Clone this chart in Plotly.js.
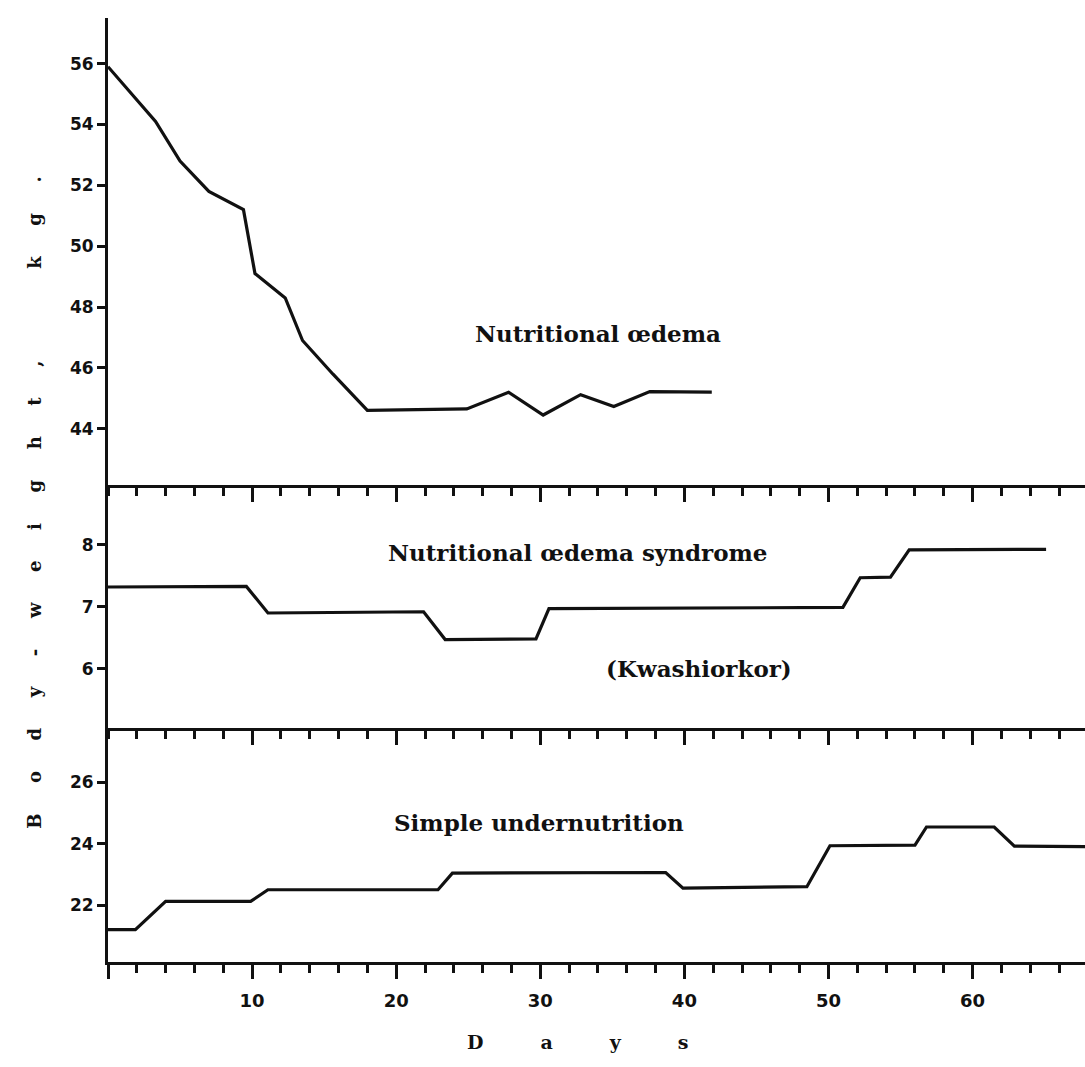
<!DOCTYPE html>
<html>
<head>
<meta charset="utf-8">
<script src="https://cdn.plot.ly/plotly-3.0.1.min.js"></script>
<style>html,body{margin:0;padding:0;background:#fff;}</style>
</head>
<body>
<div id="chart" style="width:1085px;height:1067px;"></div>
<script>
// Nutritional oedema (adult), body weight kg
const oedemaDays   = [0, 3.3, 5, 7, 9.4, 10.2, 12.3, 13.5, 15.6, 18.0, 24.9, 27.8, 30.2, 32.8, 35.1, 37.6, 41.9];
const oedemaWeight = [55.9, 54.1, 52.8, 51.8, 51.2, 49.1, 48.3, 46.9, 45.8, 44.6, 44.65, 45.2, 44.45, 45.12, 44.73, 45.22, 45.2];

// Nutritional oedema syndrome (Kwashiorkor)
const kwashDays   = [0, 9.6, 11.1, 21.9, 23.4, 29.7, 30.6, 51.0, 52.2, 54.3, 55.6, 65.1];
const kwashWeight = [7.32, 7.33, 6.9, 6.92, 6.47, 6.48, 6.97, 6.99, 7.47, 7.48, 7.92, 7.93];

// Simple undernutrition
const simpleDays   = [0, 1.9, 4.0, 9.9, 11.1, 22.9, 23.9, 38.7, 39.9, 48.5, 50.1, 56.0, 56.8, 61.5, 62.9, 67.8];
const simpleWeight = [21.2, 21.2, 22.12, 22.12, 22.5, 22.5, 23.04, 23.06, 22.55, 22.6, 23.93, 23.95, 24.54, 24.54, 23.92, 23.9];

const xTickVals = [0, 10, 20, 30, 40, 50, 60];
const xTickText = ['', '10', '20', '30', '40', '50', '60'];

const labelTop    = 'Nutritional œdema';
const labelMid    = 'Nutritional œdema syndrome';
const labelMid2   = '(Kwashiorkor)';
const labelBottom = 'Simple undernutrition';
const yTitleText  = 'Body-weight, kg.';
const xTitleText  = 'Days';

const lineStyle = {color: '#111', width: 3.2};
const serif = 'DejaVu Serif, Liberation Serif, serif';
const numFont = {family: 'DejaVu Sans, Liberation Sans, sans-serif', size: 17, color: '#111', weight: 700};
const labelFont = {family: serif, size: 23, color: '#111', weight: 700};

function spaced(s, sep) {
  return s.split('').map(c => c === ' ' ? sep : c).join(sep);
}

const traces = [
  {x: oedemaDays, y: oedemaWeight, xaxis: 'x', yaxis: 'y', mode: 'lines', line: lineStyle, hoverinfo: 'skip'},
  {x: kwashDays, y: kwashWeight, xaxis: 'x2', yaxis: 'y2', mode: 'lines', line: lineStyle, hoverinfo: 'skip'},
  {x: simpleDays, y: simpleWeight, xaxis: 'x3', yaxis: 'y3', mode: 'lines', line: lineStyle, hoverinfo: 'skip'}
];

function xAxis(anchor, showLabels) {
  return {
    anchor: anchor, range: [0, 67.8], showgrid: false, zeroline: false,
    showline: true, linewidth: 3, linecolor: '#111',
    ticks: 'outside', ticklen: 14, tickwidth: 3, tickcolor: '#111',
    tickmode: 'array', tickvals: xTickVals, ticktext: xTickText,
    showticklabels: showLabels, tickfont: Object.assign({}, numFont, {size: 18}),
    ticklabelstandoff: 6,
    minor: {tickmode: 'linear', tick0: 0, dtick: 2, ticks: 'outside', ticklen: 8, tickwidth: 3, tickcolor: '#111', showgrid: false}
  };
}
function yAxis(anchor, domain, range, dtick) {
  return {
    anchor: anchor, domain: domain, range: range, dtick: dtick, tick0: 0,
    showgrid: false, zeroline: false, showline: true, linewidth: 3, linecolor: '#111',
    ticks: 'outside', ticklen: 8, tickwidth: 3, tickcolor: '#111', tickfont: numFont
  };
}

const layout = {
  width: 1085, height: 1067,
  margin: {l: 108, r: 0, t: 18, b: 105},
  paper_bgcolor: '#fff', plot_bgcolor: '#fff',
  showlegend: false,
  xaxis: xAxis('y', false),
  xaxis2: Object.assign(xAxis('y2', false), {matches: 'x'}),
  xaxis3: Object.assign(xAxis('y3', true), {matches: 'x'}),
  yaxis: yAxis('x', [0.5053, 1], [42.15, 57.5], 2),
  yaxis2: yAxis('x2', [0.2479, 0.5053], [5.04, 8.97], 1),
  yaxis3: yAxis('x3', [0, 0.2479], [20.15, 27.76], 2),
  annotations: [
    {xref: 'x', yref: 'y', x: 34.0, y: 47.14, text: labelTop, showarrow: false, font: labelFont},
    {xref: 'x2', yref: 'y2', x: 32.6, y: 7.88, text: labelMid, showarrow: false, font: labelFont},
    {xref: 'x2', yref: 'y2', x: 41.0, y: 6.0, text: labelMid2, showarrow: false, font: labelFont},
    {xref: 'x3', yref: 'y3', x: 29.9, y: 24.7, text: labelBottom, showarrow: false, font: labelFont},
    {xref: 'paper', yref: 'paper', x: -0.088, y: 0.487, textangle: -90,
     text: spaced(yTitleText, '\u2003\u2002\u2009'), showarrow: false,
     font: {family: serif, size: 18, color: '#111', weight: 700}},
    {xref: 'paper', yref: 'paper', x: 0.481, y: -0.0985,
     text: spaced(xTitleText, '\u2003\u2003\u2003'), showarrow: false,
     font: {family: serif, size: 19, color: '#111', weight: 700}}
  ]
};

Plotly.newPlot('chart', traces, layout, {staticPlot: true, displayModeBar: false});
</script>
</body>
</html>
